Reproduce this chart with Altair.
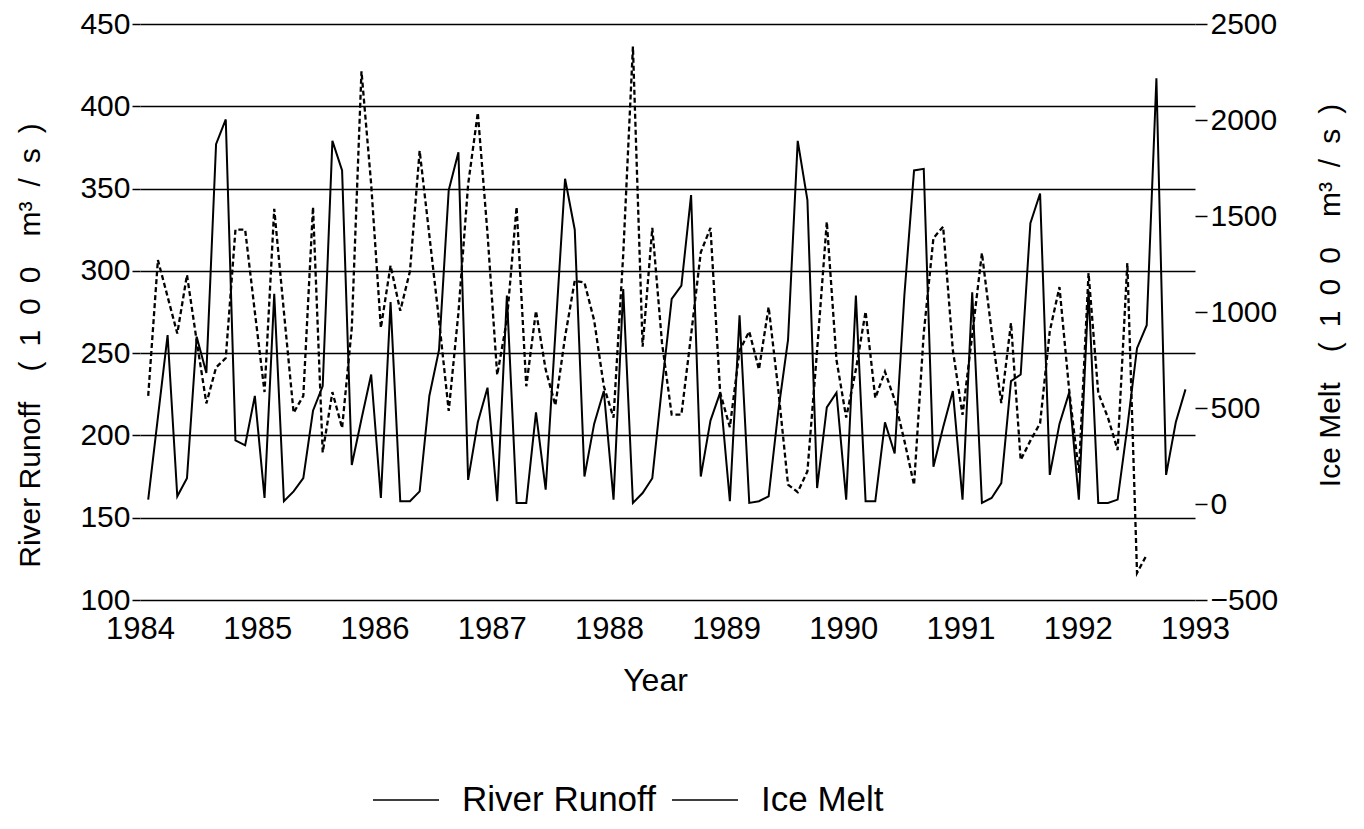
import altair as alt
import pandas as pd

# River Runoff (left axis, 100 m3/s), monthly 1984-1992
runoff = [
    161, 211, 261, 163, 174, 260, 238, 377, 392, 197, 194, 224,
    162, 286, 160, 166, 174, 215, 230, 379, 361, 182, 210, 237,
    162, 281, 160, 160, 166, 224, 252, 349, 372, 173, 208, 229,
    160, 285, 159, 159, 214, 167, 262, 356, 325, 175, 207, 227,
    161, 289, 159, 165, 174, 230, 283, 291, 346, 175, 209, 226,
    160, 273, 159, 160, 163, 215, 258, 379, 343, 168, 217, 226,
    161, 285, 160, 160, 208, 189, 285, 361, 362, 181, 205, 227,
    161, 287, 159, 162, 171, 233, 237, 329, 347, 176, 207, 226,
    161, 288, 159, 159, 161, 205, 253, 267, 417, 176, 208, 228,
]

# Ice Melt (right axis, 100 m3/s), monthly 1984-1992 (ends Aug 1992)
ice = [
    563, 1271, 1080, 888, 1193, 850, 524, 711, 760, 1429, 1429, 1000,
    583, 1537, 1000, 475, 563, 1547, 269, 583, 396, 917, 2254, 1665,
    917, 1242, 1006, 1212, 1840, 1400, 957, 485, 996, 1664, 2038, 1409,
    672, 957, 1547, 613, 1006, 700, 514, 870, 1163, 1153, 957, 613,
    450, 1300, 2382, 819, 1438, 839, 465, 465, 880, 1311, 1438, 580,
    400, 800, 898, 701, 1026, 593, 101, 62, 170, 800, 1470, 750,
    450, 700, 1002, 552, 689, 542, 330, 99, 890, 1385, 1444, 802,
    464, 880, 1307, 900, 526, 943, 229, 330, 420, 900, 1130, 594,
    162, 1203, 578, 450, 281, 1255, -359, -265,
]

series_names = ["River Runoff", "Ice Melt"]
year_ticks = list(range(1984, 1994))
left_ticks = [100, 150, 200, 250, 300, 350, 400, 450]
right_ticks = [-500, 0, 500, 1000, 1500, 2000, 2500]

SP = "\u2002"
unit_text = f"({SP}1{SP}0{SP}0{SP}{SP}m³{SP}/{SP}s{SP})"
left_title = f"River Runoff{SP}{SP}{unit_text}"
right_title = f"Ice Melt{SP}{SP}{unit_text}"


def month_times(n):
    return [round(1984.07 + i * 0.0827, 4) for i in range(n)]


df_r = pd.DataFrame({"t": month_times(len(runoff)), "v": runoff, "series": series_names[0]})
df_i = pd.DataFrame({"t": month_times(len(ice)), "v": ice, "series": series_names[1]})

FONT = "Liberation Sans"

color = alt.Color(
    "series:N",
    scale=alt.Scale(domain=series_names, range=["black", "black"]),
    legend=alt.Legend(
        title=None,
        orient="none",
        legendX=232,
        legendY=742,
        direction="horizontal",
        symbolType="stroke",
        symbolSize=4356,
        symbolStrokeWidth=1.6,
        symbolDash=[1, 0],
        symbolStrokeColor="black",
        labelFontSize=35,
        labelFont=FONT,
        labelColor="black",
        labelOffset=22,
        labelLimit=0,
        columnPadding=12,
    ),
)

x_enc = alt.X(
    "t:Q",
    scale=alt.Scale(domain=[1984, 1993], nice=False, zero=False),
    axis=alt.Axis(
        values=year_ticks, format="d", title="Year", grid=False, domain=False,
        ticks=False, labelPadding=14, labelFontSize=31, titleFontSize=32,
        titleFontWeight="normal", titleX=515, titleY=80, titleBaseline="middle",
        labelFlush=False,
    ),
)

left = alt.Chart(df_r).mark_line(color="black", strokeWidth=2).encode(
    x=x_enc,
    y=alt.Y(
        "v:Q",
        scale=alt.Scale(domain=[100, 450], nice=False, zero=False),
        axis=alt.Axis(
            values=left_ticks, title=left_title, grid=True,
            gridColor="black", gridWidth=1.6, gridOpacity=1, domain=False,
            tickSize=8, tickColor="black", tickWidth=1.5, labelPadding=2,
            labelFontSize=30, titleFontSize=30, titleFontWeight="normal",
            titleX=-110, titleY=321, titleAngle=270, titleAlign="center",
            titleBaseline="middle", titleLimit=0,
        ),
    ),
    color=color,
)

right = alt.Chart(df_i).mark_line(color="black", strokeWidth=2.3, strokeDash=[5, 3]).encode(
    x=alt.X("t:Q", scale=alt.Scale(domain=[1984, 1993], nice=False, zero=False)),
    y=alt.Y(
        "v:Q",
        scale=alt.Scale(domain=[-500, 2500], nice=False, zero=False),
        axis=alt.Axis(
            orient="right", values=right_ticks, format="d",
            title=right_title,
            grid=False, domain=False, tickSize=12, tickColor="black", tickWidth=1.5,
            labelPadding=3, labelFontSize=30, titleFontSize=30,
            titleFontWeight="normal", titleX=135, titleY=271, titleAngle=270,
            titleAlign="center", titleBaseline="middle", titleLimit=0,
        ),
    ),
    color=color,
)

chart = (
    alt.layer(left, right)
    .resolve_scale(y="independent")
    .properties(
        width=1055,
        height=576,
        autosize=alt.AutoSizeParams(type="none"),
        padding={"left": 140, "top": 24, "right": 169, "bottom": 229},
        background="white",
    )
    .configure_view(stroke=None)
    .configure_axis(labelFont=FONT, titleFont=FONT, labelColor="black", titleColor="black")
    .configure_legend(labelFont=FONT)
)

chart.save("out.html", embed_options={"renderer": "svg", "actions": False})
